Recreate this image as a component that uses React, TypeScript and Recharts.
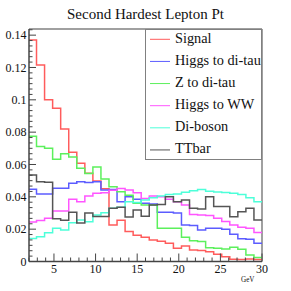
import React from 'react';
import { LineChart, Line, XAxis, YAxis, Legend, ReferenceLine } from 'recharts';

// Visible bin left edges (histogram of 31 bins over 0..30, shown from 2 to 30)
const binEdges = [2, 2.903, 3.871, 4.839, 5.806, 6.774, 7.742, 8.71, 9.677, 10.645, 11.613, 12.581, 13.548, 14.516, 15.484, 16.452, 17.419, 18.387, 19.355, 20.323, 21.29, 22.258, 23.226, 24.194, 25.161, 26.129, 27.097, 28.065, 29.032];
const xEnd = 30;

const signal = [0.137, 0.1215, 0.1, 0.0948, 0.082, 0.0675, 0.0607, 0.0546, 0.0498, 0.045, 0.0226, 0.0255, 0.0185, 0.0163, 0.015, 0.0133, 0.0125, 0.0113, 0.0082, 0.0096, 0.0071, 0.0068, 0.006, 0.0045, 0.003, 0.0014, 0.0012, 0.0016, 0.0012];
const higgsTauTau = [0.0447, 0.0418, 0.0418, 0.0453, 0.0453, 0.0484, 0.0494, 0.0488, 0.0494, 0.0442, 0.0445, 0.037, 0.04, 0.0385, 0.036, 0.0355, 0.0305, 0.0305, 0.03, 0.0226, 0.0222, 0.0195, 0.0205, 0.0205, 0.02, 0.0168, 0.014, 0.0138, 0.0113];
const zTauTau = [0.0775, 0.0712, 0.07, 0.0632, 0.0667, 0.0647, 0.0576, 0.0545, 0.0585, 0.051, 0.0463, 0.0432, 0.041, 0.036, 0.035, 0.035, 0.0205, 0.0205, 0.0205, 0.015, 0.0128, 0.0123, 0.0085, 0.0082, 0.0078, 0.0088, 0.0075, 0.004, 0.0025];
const higgsWW = [0.0244, 0.0254, 0.0267, 0.0312, 0.0312, 0.0385, 0.037, 0.0405, 0.0422, 0.0425, 0.044, 0.0452, 0.0442, 0.0425, 0.039, 0.0405, 0.04, 0.0385, 0.037, 0.035, 0.029, 0.0288, 0.0285, 0.0267, 0.0248, 0.0226, 0.0212, 0.0205, 0.018];
const diboson = [0.0143, 0.0153, 0.0178, 0.0205, 0.0195, 0.024, 0.0257, 0.0246, 0.0288, 0.0302, 0.033, 0.0335, 0.037, 0.0365, 0.038, 0.0395, 0.0405, 0.0415, 0.0418, 0.0428, 0.0438, 0.0445, 0.0435, 0.043, 0.0426, 0.0422, 0.0415, 0.0395, 0.037];
const ttbar = [0.0535, 0.0494, 0.049, 0.0265, 0.0255, 0.0305, 0.0238, 0.03, 0.0278, 0.0278, 0.033, 0.0335, 0.0275, 0.0318, 0.028, 0.035, 0.0352, 0.04, 0.037, 0.038, 0.033, 0.0325, 0.04, 0.034, 0.034, 0.0277, 0.0308, 0.0329, 0.0257];

const seriesKeys = ['signal', 'htt', 'ztt', 'hww', 'vv', 'tt'];
const seriesNames = ['Signal', 'Higgs to di-tau', 'Z to di-tau', 'Higgs to WW', 'Di-boson', 'TTbar'];
const seriesValues = [signal, higgsTauTau, zTauTau, higgsWW, diboson, ttbar];
const seriesColors = ['#ff5c5c', '#5c5cff', '#5cf05c', '#ff55ff', '#4dffd9', '#555555'];

const title = 'Second Hardest Lepton Pt';
const xUnit = 'GeV';
const xMajorTicks = [5, 10, 15, 20, 25, 30];
const xMinorTicks = [2, 3, 4, 5, 6, 7, 8, 9, 10, 11, 12, 13, 14, 15, 16, 17, 18, 19, 20, 21, 22, 23, 24, 25, 26, 27, 28, 29, 30];
const yMajorTicks = [0, 0.02, 0.04, 0.06, 0.08, 0.1, 0.12, 0.14];
const yTickLabels = ['0', '0.02', '0.04', '0.06', '0.08', '0.1', '0.12', '0.14'];
const yMax = 0.1438;
const yMinorStep = 0.02 / 6;

const yTicks: number[] = [];
for (let k = 0; k * yMinorStep <= yMax + 1e-12; k++) yTicks.push(+(k * yMinorStep).toFixed(6));

const data = binEdges.map((x, i) => {
  const row: any = { x };
  seriesKeys.forEach((k, s) => (row[k] = seriesValues[s][i]));
  return row;
});
{
  const last: any = { x: xEnd };
  seriesKeys.forEach((k, s) => (last[k] = seriesValues[s][seriesValues[s].length - 1]));
  data.push(last);
}

const FONT = "'Liberation Serif', 'Times New Roman', serif";
const AXIS = '#444';
const FRAME = '#808080';

const YTick = (props: any) => {
  const { x, y, payload } = props;
  const v = payload.value;
  const idx = yMajorTicks.findIndex((m) => Math.abs(m - v) < 1e-6);
  const major = idx >= 0;
  return (
    <g>
      <line x1={x} x2={x + (major ? 7 : 3.5)} y1={y} y2={y} stroke={AXIS} strokeWidth={1} />
      {major && (
        <text x={x - 2.5} y={y + 4.2} textAnchor="end" fontSize={12} fontFamily={FONT} fill="#111">
          {yTickLabels[idx]}
        </text>
      )}
    </g>
  );
};

const XTick = (props: any) => {
  const { x, y, payload } = props;
  const v = payload.value;
  const major = xMajorTicks.includes(v);
  return (
    <g>
      <line x1={x} x2={x} y1={y} y2={y - (major ? 8 : 4)} stroke={AXIS} strokeWidth={1} />
      {major && (
        <text x={x} y={y + 11.5} textAnchor="middle" fontSize={12} fontFamily={FONT} fill="#111">
          {String(v)}
        </text>
      )}
    </g>
  );
};

const UnitLabel = (props: any) => {
  const vb = props.viewBox || { x: 29, y: 261.5, width: 233, height: 29.5 };
  return (
    <text x={vb.x + vb.width - 7.5} y={vb.y + 20} textAnchor="end" fontSize={9} fontFamily={FONT} fill="#111" textLength={13.5} lengthAdjust="spacingAndGlyphs">
      {xUnit}
    </text>
  );
};

const LegendBox = () => (
  <svg width={117} height={131} style={{ display: 'block' }}>
    <rect x={0.5} y={0.5} width={116} height={130} fill="#fff" stroke={FRAME} strokeWidth={1} />
    {seriesNames.map((n, i) => {
      const base = 13.8 + i * 22.13;
      return (
        <g key={n}>
          <line x1={5} x2={25} y1={base - 3.5} y2={base - 3.5} stroke={seriesColors[i]} strokeWidth={1} />
          <text x={30} y={base} fontSize={14.3} fontFamily={FONT} fill="#111">
            {n}
          </text>
        </g>
      );
    })}
  </svg>
);

export default function App() {
  return (
    <div style={{ position: 'absolute', left: 0, top: 0, width: 291, height: 291, background: '#fff' }}>
      <div
        style={{
          position: 'absolute',
          left: 0,
          top: 0,
          width: 291,
          textAlign: 'center',
          fontFamily: FONT,
          fontSize: 15,
          lineHeight: '15px',
          paddingTop: 7,
          color: '#111',
          zIndex: 2,
        }}
      >
        {title}
      </div>
      <LineChart width={291} height={291} data={data} margin={{ top: 29, right: 29, bottom: 0, left: 0 }}>
        <XAxis
          dataKey="x"
          type="number"
          domain={[2, 30]}
          allowDataOverflow
          ticks={xMinorTicks}
          interval={0}
          tickSize={0}
          tickMargin={0}
          tick={<XTick />}
          height={29.5}
          axisLine={{ stroke: AXIS, strokeWidth: 1.5 }}
          label={<UnitLabel />}
        />
        <YAxis
          type="number"
          domain={[0, yMax]}
          allowDataOverflow
          ticks={yTicks}
          interval={0}
          tickSize={0}
          tickMargin={0}
          tick={<YTick />}
          width={29}
          axisLine={{ stroke: AXIS, strokeWidth: 1.5 }}
        />
        <ReferenceLine y={yMax} stroke={FRAME} strokeWidth={1.5} />
        <ReferenceLine x={30} stroke={FRAME} strokeWidth={1.5} />
        {seriesKeys.map((k, i) => (
          <Line
            key={k}
            dataKey={k}
            name={seriesNames[i]}
            type="stepAfter"
            stroke={seriesColors[i]}
            strokeWidth={1.5}
            dot={false}
            activeDot={false}
            isAnimationActive={false}
          />
        ))}
        <Legend
          layout="vertical"
          align="center"
          verticalAlign="middle"
          width={117}
          height={131}
          wrapperStyle={{ left: 145, top: 29, width: 117, height: 131 }}
          content={<LegendBox />}
        />
      </LineChart>
    </div>
  );
}
